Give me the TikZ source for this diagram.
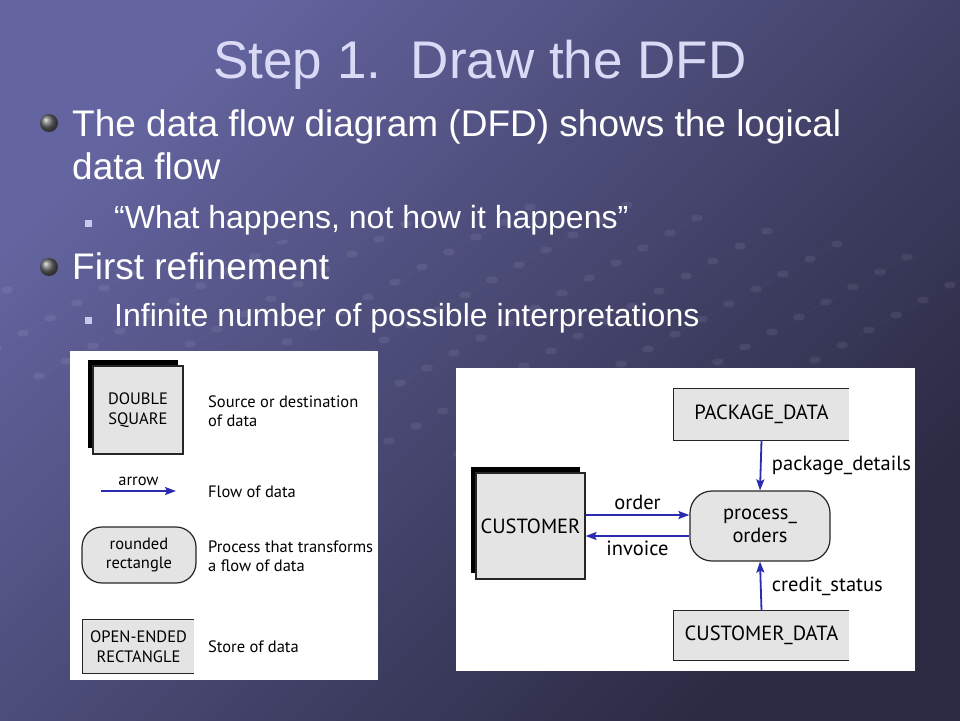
\documentclass[tikz,border=0pt]{standalone}
\usepackage{fontspec}
\setmainfont{Liberation Sans}
\newfontfamily\figfont{PT Sans}
\usetikzlibrary{arrows.meta,shadows,positioning}

\definecolor{slidetop}{HTML}{6464A0}
\definecolor{slidebot}{HTML}{2A2A42}
\definecolor{titlecol}{HTML}{DADAF6}
\definecolor{boxgray}{HTML}{E4E4E4}
\definecolor{flowblue}{HTML}{2B2BB0}
\definecolor{subbullet}{HTML}{C8C8F0}

\tikzset{
  titletext/.style={anchor=base, inner sep=0, text=titlecol, font=\fontsize{53}{60}\selectfont},
  slidetext/.style={anchor=base west, inner sep=0, text=white, font=\fontsize{37}{44}\selectfont},
  subtext/.style={anchor=base west, inner sep=0, text=white, font=\fontsize{32}{38}\selectfont},
  ballbullet/.style={circle, ball color=black!60, minimum size=18, inner sep=0},
  sqbullet/.style={rectangle, fill=subbullet, minimum size=7, inner sep=0},
  legfont/.style={font=\figfont\fontsize{16.5}{19.5}\selectfont},
  dfdfont/.style={font=\figfont\fontsize{20.5}{23}\selectfont},
  srcbox/.style={draw=black!85, line width=1.2pt, fill=boxgray, align=center,
    general shadow={fill=black, shadow xshift=-5.5pt, shadow yshift=6.5pt}},
  procbox/.style={draw=black!85, line width=1.2pt, fill=boxgray, align=center, rounded corners=20},
  storebox/.style={fill=boxgray, align=center},
  storeline/.style={draw=black!85, line width=1.2pt},
  legtext/.style={anchor=west, align=left, inner sep=0},
  flow/.style={draw=flowblue, line width=1.8pt, -{Stealth[length=11pt,width=8pt,inset=2pt]}}
}

\begin{document}
\begin{tikzpicture}[x=1pt,y=-1pt]
  \useasboundingbox (0,0) rectangle (960,720);
  % background
  \shade[top color=slidetop, bottom color=slidebot, shading angle=45] (0,0) rectangle (960,720);
  \begin{scope}
    \clip (0,285) -- (600,190) -- (960,230) -- (960,720) -- (0,720) -- cycle;
    \foreach \i in {-12,...,4} {
      \draw[white, opacity=0.04] ({697+70*\i},{218+13*\i}) -- ({697+70*\i-27*14},{218+13*\i+15*14});
      \foreach \j in {0,...,14}
        \fill[white, opacity=0.07] ({697+70*\i-27*\j},{218+13*\i+15*\j}) ellipse (6 and 3.5);
    }
  \end{scope}

  % title and bullets
  \node[titletext] (title) at (480,78) {Step 1.\ \ Draw the DFD};
  \node[ballbullet] (b1) at (49,123) {};
  \node[slidetext] (l1) at (72,136) {The data flow diagram (DFD) shows the logical};
  \node[slidetext] (l1b) at (72,179) {data flow};
  \node[sqbullet] (s1) at (88,223) {};
  \node[subtext] (l2) at (114,228) {“What happens, not how it happens”};
  \node[ballbullet] (b2) at (49,267) {};
  \node[slidetext] (l3) at (72,279) {First refinement};
  \node[sqbullet] (s2) at (88,320) {};
  \node[subtext] (l4) at (114,326) {Infinite number of possible interpretations};

  % legend panel
  \fill[white] (70,351) rectangle (378,680);
  \node[srcbox, legfont, minimum width=90, minimum height=88] (dsq) at (138,410) {DOUBLE\\SQUARE};
  \node[legtext, legfont] (dsqt) at (208,411) {Source or destination\\of data};
  \coordinate (a0) at (101,491);
  \coordinate (a1) at (176,491);
  \draw[flow] (a0) -- node[above=1pt, legfont] {arrow} (a1);
  \node[legtext, legfont] (arrt) at (208,492) {Flow of data};
  \node[procbox, legfont, minimum width=114, minimum height=56] (rrect) at (139,555) {rounded\\rectangle};
  \node[legtext, legfont] (rrectt) at (208,556) {Process that transforms\\a flow of data};
  \node[storebox, legfont, minimum width=111, minimum height=53] (oer) at (138.5,646.5) {OPEN-ENDED\\RECTANGLE};
  \draw[storeline] (oer.north east) -- (oer.north west) -- (oer.south west) -- (oer.south east);
  \node[legtext, legfont] (oert) at (208,647) {Store of data};

  % dfd panel
  \fill[white] (456,368) rectangle (915,671);
  \node[srcbox, dfdfont, minimum width=109, minimum height=106] (cust) at (530.5,526) {CUSTOMER};
  \node[storebox, dfdfont, minimum width=175, minimum height=51] (pkg) at (761.5,414.5) {PACKAGE\_DATA};
  \draw[storeline] (pkg.north east) -- (pkg.north west) -- (pkg.south west) -- (pkg.south east);
  \node[procbox, dfdfont, minimum width=140, minimum height=70, rounded corners=22] (proc) at (760,526) {process\_\\orders};
  \node[storebox, dfdfont, minimum width=175, minimum height=49] (cdata) at (761.5,635.5) {CUSTOMER\_DATA};
  \draw[storeline] (cdata.north east) -- (cdata.north west) -- (cdata.south west) -- (cdata.south east);

  \draw[flow] (pkg.south) -- node[right=7pt, dfdfont] {package\_details} (proc.north);
  \draw[flow] (cdata.north) -- node[right=7pt, dfdfont] {credit\_status} (proc.south);
  \draw[flow] ([yshift=11pt]cust.east) -- node[above=1pt, dfdfont] {order} ([yshift=11pt]proc.west);
  \draw[flow] ([yshift=-10pt]proc.west) -- node[below=1pt, dfdfont] {invoice} ([yshift=-10pt]cust.east);
\end{tikzpicture}
\end{document}
